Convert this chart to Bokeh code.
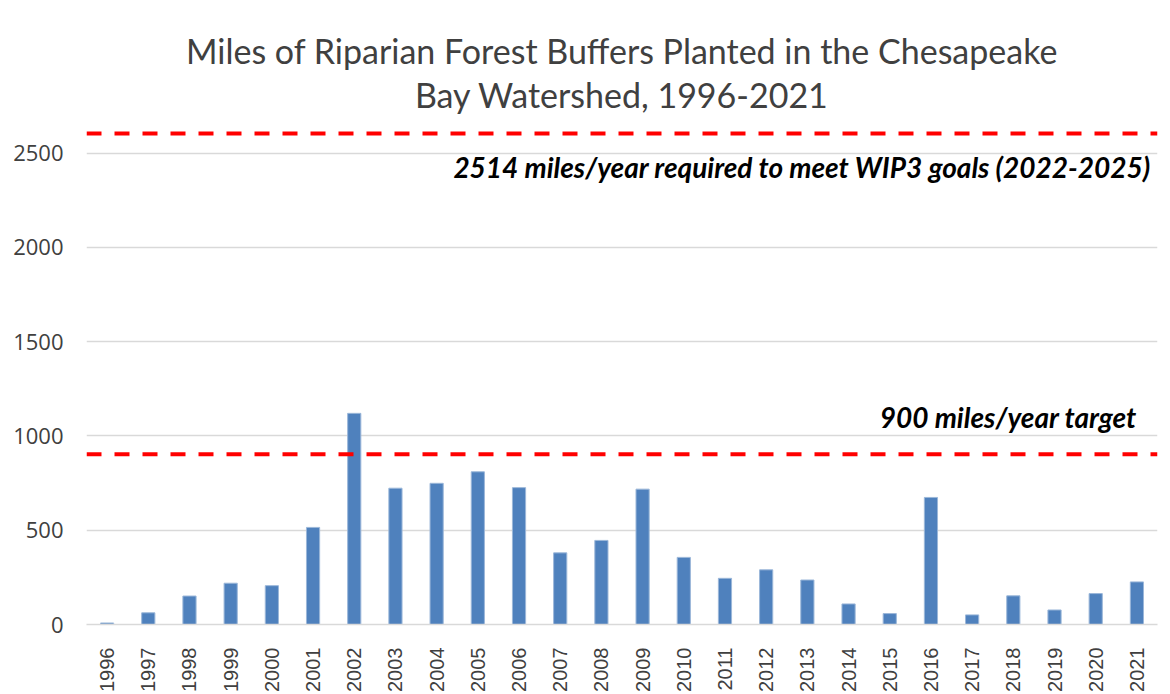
from bokeh.plotting import figure
from bokeh.models import Span, FactorRange, Range1d, FixedTicker, Title
from bokeh.core.properties import value
from bokeh.embed import file_html
from bokeh.resources import INLINE

years = [str(y) for y in range(1996, 2022)]
miles = [8, 62, 151, 219, 206, 515, 1120, 723, 749, 810, 726, 380, 446, 718,
         356, 245, 290, 236, 109, 58, 674, 51, 152, 77, 164, 226]
target_line = 903
wip3_line = 2604
wip3_text = "2514 miles/year required to meet WIP3 goals (2022-2025)"
target_text = "900 miles/year target"
title_1 = "Miles of Riparian Forest Buffers Planted in the Chesapeake"
title_2 = "Bay Watershed, 1996-2021"
y_ticks = [0, 500, 1000, 1500, 2000, 2500]

p = figure(x_range=FactorRange(*years, range_padding=0), y_range=Range1d(0, 2700),
           width=1165, height=694, output_backend="svg", toolbar_location=None,
           min_border_left=86, min_border_right=8, min_border_top=115, min_border_bottom=40)
p.title.text = title_1
p.title.align = "center"
p.title.text_font = "Lato"
p.title.text_font_size = "34px"
p.title.text_font_style = "normal"
p.title.text_color = "#404040"
p.title.standoff = 0
p.add_layout(Title(text=title_2, align="center", text_font="Lato", text_font_size="34px",
                   text_font_style="normal", text_color="#404040", standoff=2), "above")

p.vbar(x=years, top=miles, width=0.32, fill_color="#4F81BD", line_color="#9bb7d9", line_width=1)

p.add_layout(Span(location=target_line, dimension="width", line_color="#FF0000",
                  line_width=4, line_dash="15 13"))
p.add_layout(Span(location=wip3_line, dimension="width", line_color="#FF0000",
                  line_width=4, line_dash="15 13"))

p.text(x=[years[-1]], y=[2425], text=[wip3_text], x_offset=14, text_align="right",
       text_baseline="middle", text_font=value("Lato"), text_font_size="28px",
       text_font_style="bold italic", text_color="#000000")
p.text(x=[years[-1]], y=[1100], text=[target_text], x_offset=0, text_align="right",
       text_baseline="middle", text_font=value("Lato"), text_font_size="28px",
       text_font_style="bold italic", text_color="#000000")

p.outline_line_color = None
p.xgrid.grid_line_color = None
p.ygrid.grid_line_color = "#d9d9d9"
p.ygrid.grid_line_width = 1.5
p.yaxis.ticker = FixedTicker(ticks=y_ticks)
p.yaxis.axis_line_color = None
p.yaxis.major_tick_line_color = None
p.yaxis.minor_tick_line_color = None
p.yaxis.major_label_standoff = 17
p.yaxis.major_label_text_font = "Open Sans"
p.yaxis.major_label_text_font_size = "22px"
p.yaxis.major_label_text_color = "#404040"

p.xaxis.axis_line_color = "#d9d9d9"
p.xaxis.axis_line_width = 1.5
p.xaxis.major_tick_line_color = None
p.xaxis.minor_tick_line_color = None
p.xaxis.major_label_orientation = 1.5708
p.xaxis.major_label_standoff = 17
p.xaxis.major_label_text_font = "Liberation Sans"
p.xaxis.major_label_text_font_size = "20px"
p.xaxis.major_label_text_color = "#404040"

p.background_fill_color = "white"
p.border_fill_color = "white"

open("out.html", "w").write(file_html(p, INLINE))
